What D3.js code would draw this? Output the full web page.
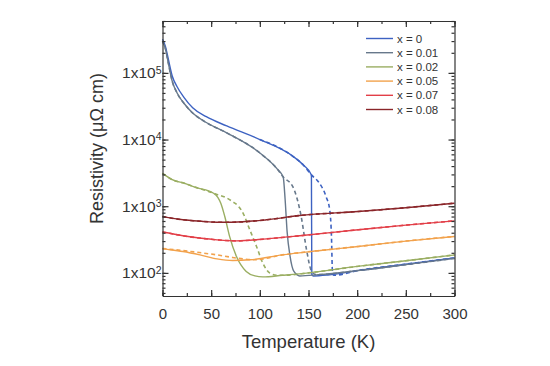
<!DOCTYPE html>
<html lang="en">
<head>
<meta charset="UTF-8" />
<title>Resistivity vs temperature</title>
<style>
  body { margin: 0; background: #fff; }
  text { font-family: "Liberation Sans", Arial, sans-serif; fill: #333; }
</style>
</head>
<body>
<svg id="chart"></svg>
<script src="https://cdnjs.cloudflare.com/ajax/libs/d3/7.8.5/d3.min.js"></script>
<script>
  // legend labels and colours
  const labels = ["x = 0", "x = 0.01", "x = 0.02", "x = 0.05", "x = 0.07", "x = 0.08"];
  const colors = ["#3d62c2", "#67788b", "#9aae62", "#f2a24c", "#e23f48", "#8a2529"];

  // cooling curves (solid), [T (K), rho (uOhm cm)]
  const x0 = [[0, 320000], [3, 250000], [6, 160000], [10, 90000], [15, 62000], [22, 43000], [31, 30000],
    [45, 22000], [66, 16000], [100, 10000], [134, 5600], [145, 4100], [153, 2950], [153.4, 95],
    [155, 90], [170, 93], [200, 108], [250, 135], [300, 168]];
  const x001 = [[0, 300000], [3, 230000], [6, 140000], [10, 75000], [15, 50000], [22, 35000], [31, 25000],
    [45, 18000], [66, 12600], [100, 6300], [118, 3600], [124, 2750], [126, 1250], [128, 420],
    [131, 180], [135, 105], [141, 90], [160, 94], [200, 108], [250, 133], [300, 165]];
  const x002 = [[0, 3100], [3, 2900], [10, 2500], [21, 2240], [35, 1900], [52, 1580], [57, 1350],
    [60, 1100], [64, 700], [69, 350], [76, 176], [86, 105], [95, 90], [103, 87], [123, 92],
    [150, 100], [200, 125], [250, 152], [300, 186]];
  const x005 = [[0, 230], [3, 227], [21, 209], [38.5, 186], [56, 162], [72, 153], [90, 157],
    [123, 186], [160, 215], [201, 249], [250, 300], [300, 352]];
  const x007 = [[0, 410], [3, 403], [21, 360], [40, 330], [56, 313], [76, 302], [107, 324],
    [141, 360], [201, 443], [250, 520], [300, 603]];
  const x008 = [[0, 700], [3, 687], [21, 626], [40, 595], [56, 576], [72, 576], [107, 626],
    [141, 725], [201, 832], [250, 950], [300, 1110]];

  // warming curves (dashed)
  const x0w = [[100, 10000], [134, 5600], [145, 4100], [153, 2950], [161, 2240], [168, 1400],
    [171.8, 880], [173.6, 350], [174.6, 105], [176, 92], [200, 108], [250, 135], [300, 168]];
  const x001w = [[0, 300000], [3, 230000], [6, 140000], [10, 75000], [15, 50000], [22, 35000],
    [31, 25000], [45, 18000], [66, 12600], [100, 6300], [118, 3600], [124, 2750], [134, 1950],
    [142.5, 700], [148, 222], [153, 107], [158, 94], [200, 108], [250, 133], [300, 165]];
  const x002w = [[0, 3100], [3, 2900], [10, 2500], [21, 2240], [35, 1900], [52, 1580], [56, 1500],
    [65, 1350], [72, 1170], [78, 1000], [82.6, 795], [89.7, 443], [96.6, 249], [103, 141],
    [110, 100], [118, 92], [125, 92], [150, 100], [200, 125], [250, 152], [300, 186]];
  const x005w = [[0, 232], [21, 216], [40, 200], [56, 186], [70, 172], [82.6, 162], [95, 157],
    [123, 186], [160, 215], [201, 249], [250, 300], [300, 352]];
  const x007w = x007;
  const x008w = x008;

  const solid = [x0, x001, x002, x005, x007, x008];
  const dashed = [x0w, x001w, x002w, x005w, x007w, x008w];

  const xTicks = [0, 50, 100, 150, 200, 250, 300];
  const yTicks = [100, 1000, 10000, 100000];

  const width = 550, height = 366;
  const margin = { left: 162.5, right: 95.5, top: 21, bottom: 70 };

  const svg = d3.select("#chart").attr("width", width).attr("height", height);

  const x = d3.scaleLinear().domain([0, 300]).range([margin.left, width - margin.right]);
  const y = d3.scaleLog().domain([45, 600000]).range([height - margin.bottom, margin.top]);

  const line = d3.line()
    .x((d) => x(d[0]))
    .y((d) => y(d[1]))
    .curve(d3.curveMonotoneX);

  // curves
  const g = svg.append("g");
  dashed.forEach((data, i) => {
    g.append("path")
      .attr("d", line(data))
      .attr("fill", "none")
      .attr("stroke", colors[i])
      .attr("stroke-width", 1.6)
      .attr("stroke-dasharray", "4,3");
  });
  solid.forEach((data, i) => {
    g.append("path")
      .attr("d", line(data))
      .attr("fill", "none")
      .attr("stroke", colors[i])
      .attr("stroke-width", 1.4);
  });

  // minor ticks
  const xMinor = d3.range(0, 301, 25);
  const yMinor = [];
  for (let e = 1; e <= 5; e++) {
    for (let m = 1; m <= 9; m++) {
      const v = m * Math.pow(10, e);
      if (v >= 45 && v <= 600000) yMinor.push(v);
    }
  }

  // bottom / top axes (ticks inward)
  svg.append("g")
    .attr("transform", `translate(0, ${height - margin.bottom})`)
    .call(d3.axisBottom(x).tickValues(xMinor).tickSize(-3).tickFormat(""))
    .call((a) => a.select(".domain").remove());
  svg.append("g")
    .attr("transform", `translate(0, ${height - margin.bottom})`)
    .call(d3.axisBottom(x).tickValues(xTicks).tickSize(-6).tickPadding(9).tickSizeOuter(0))
    .call((a) => a.selectAll("text").style("font-size", "15px").attr("dy", "0.9em"));
  svg.append("g")
    .attr("transform", `translate(0, ${margin.top})`)
    .call(d3.axisTop(x).tickValues(xMinor).tickSize(-3).tickFormat(""))
    .call((a) => a.select(".domain").remove());
  svg.append("g")
    .attr("transform", `translate(0, ${margin.top})`)
    .call(d3.axisTop(x).tickValues(xTicks).tickSize(-6).tickFormat("").tickSizeOuter(0));

  // left / right axes
  svg.append("g")
    .attr("transform", `translate(${margin.left}, 0)`)
    .call(d3.axisLeft(y).tickValues(yMinor).tickSize(-3).tickFormat(""))
    .call((a) => a.select(".domain").remove());
  const yAxis = svg.append("g")
    .attr("transform", `translate(${margin.left}, 0)`)
    .call(d3.axisLeft(y).tickValues(yTicks).tickSize(-6).tickFormat("").tickSizeOuter(0));
  svg.append("g")
    .attr("transform", `translate(${width - margin.right}, 0)`)
    .call(d3.axisRight(y).tickValues(yMinor).tickSize(-3).tickFormat(""))
    .call((a) => a.select(".domain").remove());
  svg.append("g")
    .attr("transform", `translate(${width - margin.right}, 0)`)
    .call(d3.axisRight(y).tickValues(yTicks).tickSize(-6).tickFormat("").tickSizeOuter(0));

  svg.selectAll(".domain, .tick line").attr("stroke", "#333").attr("stroke-width", 1.2);

  // y tick labels 1x10^n
  yTicks.forEach((v) => {
    const t = svg.append("text")
      .attr("x", margin.left - 1)
      .attr("y", y(v))
      .attr("text-anchor", "end")
      .attr("dy", "0.35em")
      .style("font-size", "15.5px");
    t.append("tspan").text("1x10");
    t.append("tspan")
      .attr("dy", "-0.45em")
      .style("font-size", "10.5px")
      .text(Math.round(Math.log10(v)));
  });

  // axis titles
  svg.append("text")
    .attr("x", (margin.left + width - margin.right) / 2)
    .attr("y", 348)
    .attr("text-anchor", "middle")
    .style("font-size", "18.5px")
    .text("Temperature (K)");
  svg.append("text")
    .attr("transform", `translate(103, ${(margin.top + height - margin.bottom) / 2 - 10}) rotate(-90)`)
    .attr("text-anchor", "middle")
    .style("font-size", "18px")
    .text("Resistivity (μΩ cm)");

  // legend
  const legend = svg.append("g");
  labels.forEach((l, i) => {
    const ly = 38.5 + i * 14.2;
    legend.append("line")
      .attr("x1", 366).attr("x2", 393)
      .attr("y1", ly).attr("y2", ly)
      .attr("stroke", colors[i]).attr("stroke-width", 1.4);
    legend.append("text")
      .attr("x", 397).attr("y", ly)
      .attr("dy", "0.35em")
      .style("font-size", "11.5px")
      .text(l);
  });
</script>
</body>
</html>
